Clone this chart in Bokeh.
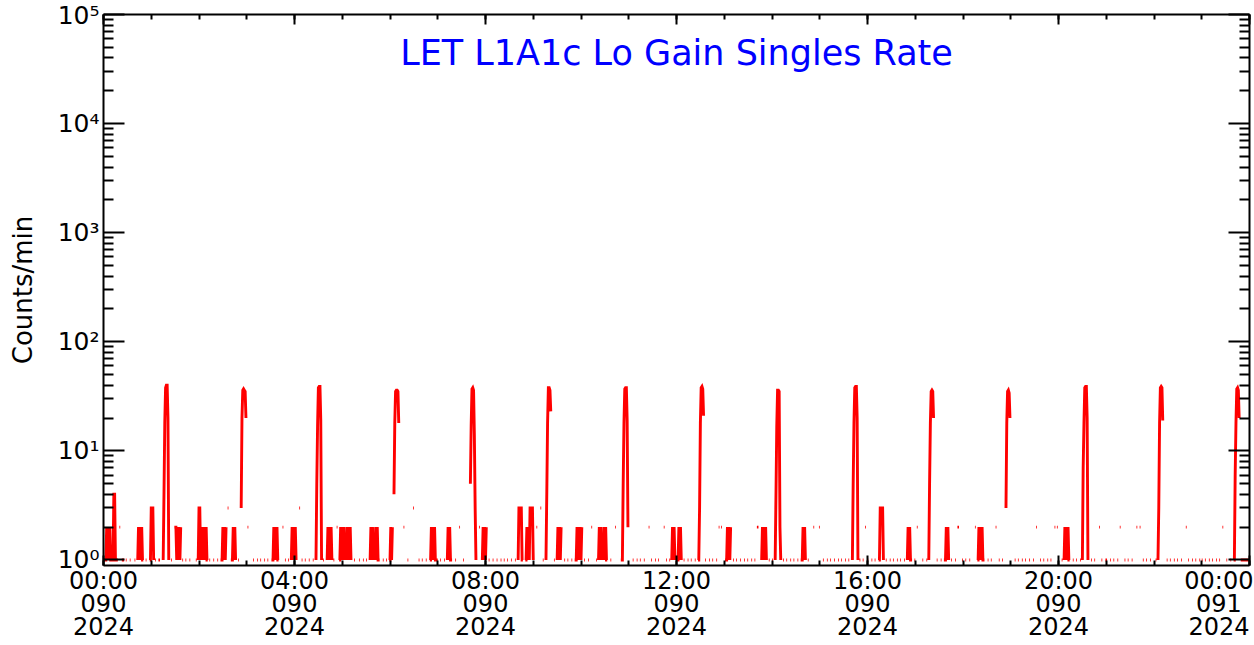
import numpy as np
from bokeh.plotting import figure
from bokeh.models import (LinearAxis, LogAxis, FixedTicker, Label, Range1d,
                          CustomJSTickFormatter)
from bokeh.embed import file_html
from bokeh.resources import INLINE

# ---------------- data ----------------
title_text = "LET L1A1c Lo Gain Singles Rate"
y_title = "Counts/min"

x_tick_minutes = [0, 240, 480, 720, 960, 1200, 1440]
x_tick_labels = ["00:00\n090\n2024", "04:00\n090\n2024", "08:00\n090\n2024",
                 "12:00\n090\n2024", "16:00\n090\n2024", "20:00\n090\n2024",
                 "00:00\n091\n2024"]
y_tick_values = [1, 10, 100, 1000, 10000, 100000]
y_tick_labels = ["10\u2070", "10\u00b9", "10\u00b2", "10\u00b3", "10\u2074", "10\u2075"]

# per-minute baseline (value 1) for each hour, '.' = no data
baseline_rows = [
    "111111111111111111111111111.11...11..1.11...11...11..11...11.",
    "11...11..111...11..11....11.......11...11..11...11..1...11..1",
    "11..11...11..11...11...11..11..11...11..11...11..11..11...11.",
    "..11..1.11...11..11...11..11...11.11...11.......11..11...11..",
    "11.......11..11...11...11..11..11...11...11..11..11.....11...",
    "11...11...11...11....11...11..11.....11...11..11...11..11..11",
    "11...11..11...........11...11..11...11..11...11...11..11..11.",
    "1..11...11..11...11...11....11..11.....11...11.....11...11..1",
    "11..11...11...11...11..11..11...11...11..11...11..11...11..11",
    "1..11..11...11...11...11..11..11..11...11..11...11..11...11..",
    "11..11...11...11...11..11...11..11...11..11..11...11..11...11",
    "11...11...11..11...11..11...11...11..11...11...11..11..11...1",
    "11..11...11...11..11...11..11...11..11...11..11...11..11...11",
    ".11...11...11..11...11...11..11...11..11...11..11...11..11...",
    "11...11..11...11..11...11..11...11..11...11..11...11..11...11",
    "11..11...11..11...11...11..11...11..11...11...11..11..11...11",
    "11...11..11...11...11..11...11..11...11..11...11..11...11..11",
    "11..11...11...11..11...11..11...11..11...11..11...11...11..11",
    "1..11...11...11..11...11..11...11..11...11...11..11...11..11.",
    "11...11..11...11..11...11...11..11...11..11...11..11...11..11",
    "11..11...11..11...11..11...11...11..11...11..11...11..11...11",
    "11...11..11...11..11...11..11...11...11..11...11..11...11..11",
    "..11...11..11...11..11...11..11...11..11...11...11..11...11..",
    "11..11...11..11...11..11...11..11...11..11...11..11111111111",
]

# low-level excursions: (start minute, per-minute values), '.' = no data
low_events = [
    (4, "21212"), (12, "1441"), (19, ".22."), (43, "121212"), (59, "13331"),
    (88, ".222121212"), (119, "1331212121211"), (149, "121212.33."),
    (162, "12121"), (180, ".22."), (213, "121212"), (224, ".22."),
    (236, "1212121"), (245, ".33."), (281, "1212121"), (292, ".22."),
    (297, "1212121"), (305, "121212"), (335, "12121"), (341, "12121"),
    (360, "1212."), (376, ".22."), (388, ".33."), (411, "1212121"),
    (432, "12121"), (446, ".22."), (471, ".22."), (476, "121212"),
    (521, "133331"), (531, "1212133331"), (543, ".22."), (548, ".33."),
    (570, "121212"), (594, "12121212"), (612, ".22."), (622, "12121"),
    (628, "12121"), (642, ".22."), (684, ".22."), (703, ".22."),
    (714, "12121"), (722, "12121"), (772, ".22.22."), (783, "121212"),
    (820, ".222."), (827, "1212121"), (878, "12121"), (891, ".22."),
    (898, ".22."), (956, ".22."), (975, "133331"), (1010, "12121"),
    (1021, ".22."), (1058, "12121"), (1072, ".222."), (1094, ".22."),
    (1099, "1212121"), (1120, ".22."), (1171, ".22."), (1194, ".22.22."),
    (1207, "121212"), (1250, ".22."), (1276, ".22."), (1297, ".22..22."),
    (1359, ".22."), (1405, ".22."),
]

# orbit spikes: start minute and per-minute counts (None = no data)
spike_starts = [75, 172, 267, 364, 460, 556, 652, 748, 844, 941, 1037, 1133, 1230, 1325, 1421]
spike_values = [
    [1, 4, 18, 38, 40, 40, 20, 1],
    [None, 3, 20, 36, 37, 36, 35, 20, None],
    [1, 5, 17, 38, 39, 39, 19, 1],
    [None, 4, 18, 35, 36, 36, 35, 18, None],
    [None, 5, 17, 37, 38, 36, 14, 3, 1],
    [1, 4, 18, 38, 38, 36, 23, None],
    [1, 5, 18, 37, 38, 38, 19, 2, None],
    [1, 3, 18, 38, 39, 37, 21, None],
    [1, 4, 17, 36, 36, 35, 2, 1],
    [1, 5, 18, 38, 39, 39, 20, 1],
    [1, 5, 18, 35, 36, 35, 20, None],
    [None, 3, 18, 35, 36, 34, 20, None],
    [1, 7, 18, 38, 39, 39, 20, 1],
    [1, 3, 18, 38, 39, 38, 19, None],
    [1, 6, 18, 37, 38, 36, 20, None],
]

# ---------------- assemble the per-minute series ----------------
N = 1440
vals = np.full(N, np.nan)
for h, row in enumerate(baseline_rows):
    row = (row + "." * 60)[:60]
    for m, ch in enumerate(row):
        if ch != ".":
            vals[h * 60 + m] = float(ch)
for start, pat in low_events:
    for i, ch in enumerate(pat):
        t = start + i
        if 0 <= t < N:
            vals[t] = np.nan if ch == "." else float(ch)
for start, seq in zip(spike_starts, spike_values):
    for i, v in enumerate(seq):
        t = start + i
        if 0 <= t < N:
            vals[t] = np.nan if v is None else float(v)
minutes = np.arange(N, dtype=float)

# ---------------- figure ----------------
FONT = "DejaVu Sans"
p = figure(width=1253, height=644,
           x_range=Range1d(0, 1440), y_range=Range1d(0.89, 1e5),
           y_axis_type="log", x_axis_location=None, y_axis_location=None,
           output_backend="svg", toolbar_location=None,
           min_border_left=103, min_border_right=4, min_border_top=14, min_border_bottom=79)
p.outline_line_color = None
p.xgrid.visible = False
p.ygrid.visible = False
p.background_fill_color = "white"
p.border_fill_color = "white"

p.line(minutes, vals, line_color="#ff0000", line_width=2.9, line_join="miter")

x_ticker = FixedTicker(ticks=x_tick_minutes, minor_ticks=list(range(0, 1441, 60)))
y_minor = [k * 10 ** d for d in range(5) for k in range(2, 10)]
y_ticker = FixedTicker(ticks=y_tick_values, minor_ticks=y_minor)
blank = CustomJSTickFormatter(code="return ''")


def style_axis(ax, major_in, minor_in, labels):
    ax.axis_line_width = 2
    ax.axis_line_color = "black"
    ax.major_tick_line_width = 2
    ax.minor_tick_line_width = 2
    ax.major_tick_line_color = "black"
    ax.minor_tick_line_color = "black"
    ax.major_tick_in = major_in
    ax.major_tick_out = 0
    ax.minor_tick_in = minor_in
    ax.minor_tick_out = 0
    ax.major_label_text_font = FONT
    ax.major_label_text_color = "black"
    ax.major_label_text_font_size = "24px"
    if not labels:
        ax.formatter = blank
        ax.major_label_standoff = 0


bottom = LinearAxis(ticker=x_ticker,
                    major_label_overrides=dict(zip(x_tick_minutes, x_tick_labels)))
style_axis(bottom, 10, 5, True)
bottom.major_label_standoff = 1
bottom.major_label_text_line_height = 0.83
p.add_layout(bottom, "below")

top = LinearAxis(ticker=x_ticker)
style_axis(top, 10, 5, False)
p.add_layout(top, "above")

left = LogAxis(ticker=y_ticker,
               major_label_overrides=dict(zip(y_tick_values, y_tick_labels)),
               axis_label=y_title)
style_axis(left, 21, 10, True)
left.major_label_text_font_size = "25px"
left.major_label_standoff = 4
left.axis_label_text_font = FONT
left.axis_label_text_font_size = "26px"
left.axis_label_text_font_style = "normal"
left.axis_label_text_color = "black"
left.axis_label_standoff = 17
p.add_layout(left, "left")

right = LogAxis(ticker=y_ticker)
style_axis(right, 21, 10, False)
p.add_layout(right, "right")

p.add_layout(Label(x=720, y=44800, text=title_text, text_align="center",
                   text_baseline="middle", text_font=FONT, text_font_size="35px",
                   text_color="#0000ff"))

open("out.html", "w").write(file_html(p, INLINE))
